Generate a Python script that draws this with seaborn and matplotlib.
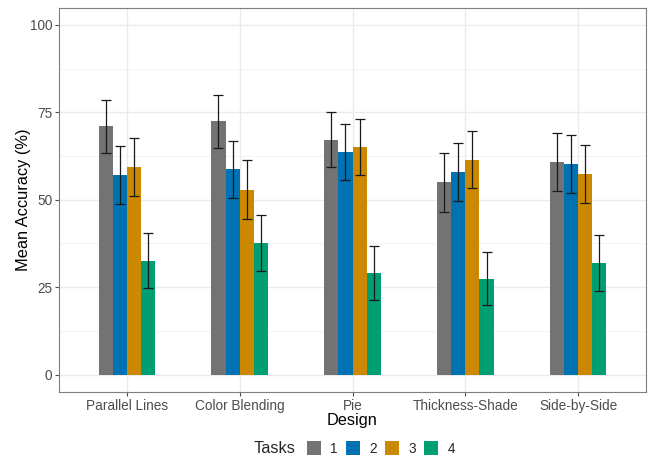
import matplotlib
matplotlib.use("Agg")
import matplotlib.pyplot as plt
import seaborn as sns
import pandas as pd
import numpy as np
from matplotlib.patches import Patch

designs = ["Parallel Lines", "Color Blending", "Pie", "Thickness-Shade", "Side-by-Side"]
tasks = ["1", "2", "3", "4"]
task1 = [71.0, 72.4, 67.2, 55.0, 60.8]
task2 = [57.1, 58.7, 63.7, 57.9, 60.1]
task3 = [59.3, 52.9, 65.1, 61.5, 57.3]
task4 = [32.6, 37.6, 29.0, 27.4, 31.9]
err1 = [7.6, 7.5, 7.9, 8.4, 8.2]
err2 = [8.2, 8.2, 8.1, 8.4, 8.3]
err3 = [8.3, 8.4, 8.1, 8.2, 8.3]
err4 = [7.9, 8.1, 7.7, 7.6, 7.9]
colors = ["#737373", "#0072B2", "#CC8800", "#009E73"]
yticks = [0, 25, 50, 75, 100]

vals = [task1, task2, task3, task4]
errs = [err1, err2, err3, err4]
rows = []
for t, v, e in zip(tasks, vals, errs):
    for d, vv, ee in zip(designs, v, e):
        rows.append({"Design": d, "Tasks": t, "acc": vv, "se": ee})
df = pd.DataFrame(rows)

sns.set_style("white")
plt.rcParams["font.family"] = ["Liberation Sans", "DejaVu Sans"]

fig = plt.figure(figsize=(6.48, 4.58), dpi=100)
ax = fig.add_axes([59 / 648, 1 - 392 / 458, (646 - 59) / 648, (392 - 7.5) / 458])

sns.barplot(data=df, x="Design", y="acc", hue="Tasks", order=designs, hue_order=tasks,
            palette=colors, width=0.5, gap=0, errorbar=None, saturation=1,
            edgecolor="none", linewidth=0, ax=ax, legend=False, zorder=3)

# error bars placed at bar centers from the drawn patches
for ti, t in enumerate(tasks):
    cont = ax.containers[ti]
    for bi, bar in enumerate(cont.patches):
        xc = bar.get_x() + bar.get_width() / 2
        h = bar.get_height()
        ax.errorbar(xc, h, yerr=errs[ti][bi], fmt="none", ecolor="#1a1a1a",
                    elinewidth=0.9, capsize=3.5, capthick=0.9, zorder=4)

ax.set_ylim(-5, 105)
ax.set_xlim(-0.6, len(designs) - 1 + 0.6)
ax.set_yticks(yticks)
ax.set_yticks([12.5, 37.5, 62.5, 87.5], minor=True)
ax.grid(True, which="major", color="#EBEBEB", linewidth=1.0, zorder=0)
ax.grid(True, which="minor", axis="y", color="#F2F2F2", linewidth=0.6, zorder=0)
ax.set_axisbelow(True)
for s in ax.spines.values():
    s.set_visible(True)
    s.set_color("#7F7F7F")
    s.set_linewidth(0.8)

ax.tick_params(axis="both", which="major", length=3, width=0.8, color="#4D4D4D",
               labelsize=9.8, labelcolor="#4D4D4D", pad=2, bottom=True, left=True)
ax.tick_params(axis="both", which="minor", length=0)
ax.set_xlabel("Design", fontsize=11.7, color="black", labelpad=0)
ax.set_ylabel("Mean Accuracy (%)", fontsize=11.8, color="black", labelpad=-1)

# legend at bottom with title on the left
fig.text(275 / 648, 1 - 448.5 / 458, "Tasks", fontsize=11.7, ha="center", va="center")
handles = [Patch(facecolor=c, edgecolor="none") for c in colors]
fig.legend(handles, tasks, loc="center left", bbox_to_anchor=(307 / 648, 1 - 448.5 / 458),
           ncol=4, frameon=False, fontsize=9.8, handlelength=1.0, handleheight=1.2,
           handletextpad=0.7, columnspacing=0.62, borderpad=0, borderaxespad=0)

fig.savefig("out.png", dpi=100)
